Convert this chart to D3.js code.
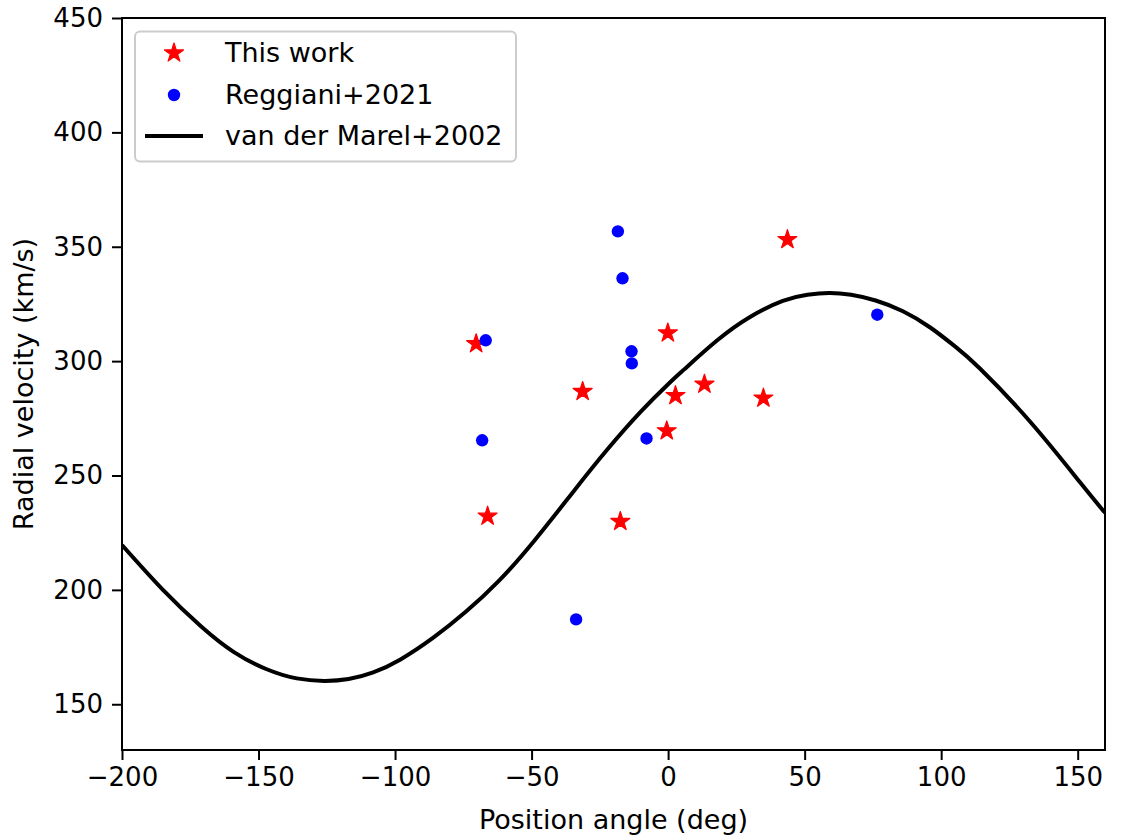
<!DOCTYPE html>
<html>
<head>
<meta charset="utf-8">
<script src="https://cdn.jsdelivr.net/npm/d3@7"></script>
<style>
body { margin: 0; background: #fff; }
text { font-family: "DejaVu Sans", sans-serif; }
</style>
</head>
<body>
<main></main>
<script>
// This work (stars)
const workAngle = [-70.3, -66.1, -31.3, -17.5, -0.5, -0.1, 2.7, 13.3, 34.9, 43.7];
const workVel = [307.6, 232.2, 286.7, 229.9, 269.5, 312.3, 284.9, 289.9, 283.8, 353.1];
// Reggiani+2021 (dots)
const regAngle = [-68.1, -66.8, -33.7, -18.4, -16.7, -13.4, -13.3, -7.9, 76.6];
const regVel = [265.4, 309.1, 187.1, 356.7, 336.2, 304.3, 299.0, 266.2, 320.3];
// van der Marel+2002 curve
const modelAngle = [-200, -185, -171, -159, -147, -136, -126, -117, -108, -98, -86, -74, -62, -49, -35, -22.5, -10, 0, 6, 18, 30, 42, 51, 59, 67, 76, 86, 96, 105, 114, 132.6, 151, 160];
const modelVel = [219.6, 200, 184, 172.8, 165.3, 161.3, 160.2, 161.0, 163.9, 169.6, 179.1, 190.5, 203.9, 221.5, 242.5, 261, 277.9, 289.9, 296.5, 309.1, 319.3, 326.3, 329.0, 329.8, 329.0, 326.5, 321.8, 314.7, 306.5, 297.0, 273.5, 246.8, 233.7];

const xTicks = [-200, -150, -100, -50, 0, 50, 100, 150];
const yTicks = [150, 200, 250, 300, 350, 400, 450];
const legendLabels = ['This work', 'Reggiani+2021', 'van der Marel+2002'];

const W = 1123, H = 838;
const pLeft = 122, pRight = 1105, pTop = 18, pBottom = 750;
const fs = 27, tickFs = 26;

const svg = d3.select('main').append('svg').attr('width', W).attr('height', H);

const x = d3.scaleLinear().domain([-200, 160]).range([pLeft, pRight]);
const y = d3.scaleLinear().domain([130, 450]).range([pBottom, pTop]);

const xAxis = d3.axisBottom(x).tickValues(xTicks).tickSize(10).tickPadding(8);
const yAxis = d3.axisLeft(y).tickValues(yTicks).tickSize(10).tickPadding(9);

const gx = svg.append('g').attr('transform', `translate(0,${pBottom})`).call(xAxis);
const gy = svg.append('g').attr('transform', `translate(${pLeft},0)`).call(yAxis);
[gx, gy].forEach(g => {
    g.select('.domain').remove();
    g.selectAll('line').attr('stroke', '#000').attr('stroke-width', 2);
    g.selectAll('text').attr('font-size', tickFs).attr('fill', '#000')
        .style('font-family', '"DejaVu Sans", sans-serif');
});

svg.append('clipPath').attr('id', 'clip').append('rect')
    .attr('x', pLeft).attr('y', pTop).attr('width', pRight - pLeft).attr('height', pBottom - pTop);
const plot = svg.append('g').attr('clip-path', 'url(#clip)');

const star = d3.symbol(d3.symbolStar, 112);
plot.selectAll('.star').data(workAngle).enter().append('path')
    .attr('class', 'star')
    .attr('d', star)
    .attr('fill', '#ff0000')
    .attr('stroke', '#ff0000').attr('stroke-width', 1.2).attr('stroke-linejoin', 'round')
    .attr('transform', (d, i) => `translate(${x(d)},${y(workVel[i])})`);

plot.selectAll('.dot').data(regAngle).enter().append('circle')
    .attr('class', 'dot')
    .attr('cx', d => x(d))
    .attr('cy', (d, i) => y(regVel[i]))
    .attr('r', 6.2)
    .attr('fill', '#0000ff');

const line = d3.line().x(d => x(d[0])).y(d => y(d[1])).curve(d3.curveNatural);
plot.append('path')
    .datum(modelAngle.map((a, i) => [a, modelVel[i]]))
    .attr('d', line)
    .attr('fill', 'none')
    .attr('stroke', '#000')
    .attr('stroke-width', 4);

// frame
svg.append('rect')
    .attr('x', pLeft).attr('y', pTop).attr('width', pRight - pLeft).attr('height', pBottom - pTop)
    .attr('fill', 'none').attr('stroke', '#000').attr('stroke-width', 2);

// legend
const lg = svg.append('g');
lg.append('rect')
    .attr('x', 135).attr('y', 31.5).attr('width', 381).attr('height', 130)
    .attr('rx', 5).attr('ry', 5)
    .attr('fill', '#fff').attr('fill-opacity', 0.8)
    .attr('stroke', '#cccccc').attr('stroke-width', 2);
const rowY = [53, 95, 136];
lg.append('path').attr('d', star).attr('fill', '#ff0000')
    .attr('stroke', '#ff0000').attr('stroke-width', 1.2).attr('stroke-linejoin', 'round')
    .attr('transform', `translate(174,${rowY[0]})`);
lg.append('circle').attr('cx', 174).attr('cy', rowY[1]).attr('r', 6.2).attr('fill', '#0000ff');
lg.append('line').attr('x1', 145).attr('x2', 203).attr('y1', rowY[2]).attr('y2', rowY[2])
    .attr('stroke', '#000').attr('stroke-width', 4);
lg.selectAll('.lt').data(legendLabels).enter().append('text')
    .attr('class', 'lt')
    .attr('x', 225)
    .attr('y', (d, i) => rowY[i])
    .attr('dy', '0.35em')
    .attr('font-size', fs)
    .text(d => d);

// axis titles
svg.append('text')
    .attr('x', (pLeft + pRight) / 2).attr('y', 829)
    .attr('text-anchor', 'middle').attr('font-size', fs)
    .text('Position angle (deg)');
svg.append('text')
    .attr('transform', `translate(33,${(pTop + pBottom) / 2}) rotate(-90)`)
    .attr('text-anchor', 'middle').attr('font-size', fs)
    .text('Radial velocity (km/s)');
</script>
</body>
</html>
